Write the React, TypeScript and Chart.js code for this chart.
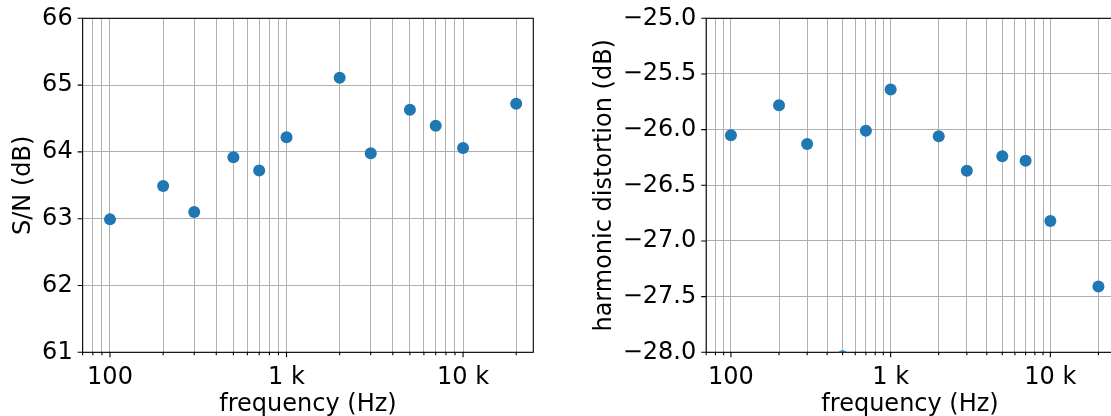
import React, { useEffect, useRef } from "react";
import { Chart, registerables } from "chart.js";

Chart.register(...registerables);

// ---- data ----
const frequencies = [100, 200, 300, 500, 700, 1000, 2000, 3000, 5000, 7000, 10000, 20000];
const snValues = [62.99, 63.49, 63.1, 63.92, 63.72, 64.22, 65.11, 63.98, 64.63, 64.39, 64.06, 64.72];
const distortionValues = [-26.05, -25.78, -26.13, -28.035, -26.01, -25.64, -26.06, -26.37, -26.24, -26.28, -26.82, -27.41];
const xTickValues = [70, 80, 90, 100, 200, 300, 400, 500, 600, 700, 800, 900, 1000, 2000, 3000, 4000, 5000, 6000, 7000, 8000, 9000, 10000, 20000];
const xMajorTicks = [100, 1000, 10000];
const xMajorLabels = ["100", "1 k", "10 k"];
const xLimits = [70, 25000];
const snTicks = [61, 62, 63, 64, 65, 66];
const distortionTicks = [-28, -27.5, -27, -26.5, -26, -25.5, -25];
const xTitle = "frequency (Hz)";
const snTitle = "S/N (dB)";
const distortionTitle = "harmonic distortion (dB)";

const FONT = "'DejaVu Sans', 'Liberation Sans', sans-serif";
const FONT_SIZE = 24;
const H = 416;

const frameTicksPlugin = {
  id: "frameTicks",
  beforeDatasetsDraw(chart: any) {
    const { ctx, chartArea: a, scales } = chart;
    ctx.save();
    ctx.strokeStyle = "#000";
    ctx.lineWidth = 1.1;
    ctx.beginPath();
    const xs = scales.x;
    for (const t of xs.ticks) {
      const px = xs.getPixelForValue(t.value);
      const len = xMajorTicks.includes(t.value) ? 5 : 3;
      ctx.moveTo(px, a.bottom);
      ctx.lineTo(px, a.bottom + len);
    }
    const ys = scales.y;
    for (const t of ys.ticks) {
      const py = ys.getPixelForValue(t.value);
      ctx.moveTo(a.left, py);
      ctx.lineTo(a.left - 5, py);
    }
    ctx.stroke();
    ctx.strokeRect(a.left, a.top, a.right - a.left, a.bottom - a.top);
    ctx.restore();
  },
};

type PanelProps = {
  values: number[];
  yTicks: number[];
  yTitle: string;
  yFormat: (v: number) => string;
  canvasLeft: number;
  canvasWidth: number;
  area: { left: number; right: number; top: number; bottom: number };
  yTitlePad: number;
};

function Panel(p: PanelProps) {
  const ref = useRef<HTMLCanvasElement | null>(null);
  useEffect(() => {
    if (!ref.current) return;
    const font = { family: FONT, size: FONT_SIZE };
    const chart = new Chart(ref.current, {
      type: "scatter",
      data: {
        datasets: [
          {
            data: frequencies.map((f, i) => ({ x: f, y: p.values[i] })),
            backgroundColor: "#1f77b4",
            borderWidth: 0,
            pointRadius: 6,
            pointHoverRadius: 6,
            clip: 0,
          } as any,
        ],
      },
      options: {
        animation: false,
        responsive: false,
        events: [],
        layout: {
          padding: { left: 0, top: p.area.top, right: p.canvasWidth - p.area.right, bottom: 0 },
        },
        plugins: { legend: { display: false }, tooltip: { enabled: false } },
        scales: {
          x: {
            type: "logarithmic",
            min: xLimits[0],
            max: xLimits[1],
            bounds: "data",
            afterBuildTicks: (s: any) => {
              s.ticks = xTickValues.map((v) => ({ value: v }));
            },
            afterFit: (s: any) => {
              s.height = H - p.area.bottom;
              s.paddingLeft = 0;
              s.paddingRight = 0;
            },
            ticks: {
              autoSkip: false,
              maxRotation: 0,
              minRotation: 0,
              padding: 11,
              color: "#000",
              font,
              callback: (v: any) => {
                const i = xMajorTicks.indexOf(Number(v));
                return i >= 0 ? xMajorLabels[i] : "";
              },
            },
            grid: { color: "#b0b0b0", lineWidth: 1, drawTicks: false },
            border: { display: false },
            title: { display: true, text: xTitle, color: "#000", font, padding: { top: 0, bottom: -3.5 } },
          },
          y: {
            type: "linear",
            min: p.yTicks[0],
            max: p.yTicks[p.yTicks.length - 1],
            afterBuildTicks: (s: any) => {
              s.ticks = p.yTicks.map((v) => ({ value: v }));
            },
            afterFit: (s: any) => {
              s.width = p.area.left;
              s.paddingTop = 0;
              s.paddingBottom = 0;
            },
            ticks: {
              padding: 10,
              color: "#000",
              font,
              callback: (v: any) => p.yFormat(Number(v)),
            },
            grid: { color: "#b0b0b0", lineWidth: 1, drawTicks: false },
            border: { display: false },
            title: { display: true, text: p.yTitle, color: "#000", font, padding: { top: p.yTitlePad, bottom: 0 } },
          },
        },
      } as any,
      plugins: [frameTicksPlugin],
    });
    return () => chart.destroy();
  }, []);
  return (
    <canvas
      ref={ref}
      width={p.canvasWidth}
      height={H}
      style={{ position: "absolute", left: p.canvasLeft, top: 0, width: p.canvasWidth, height: H, display: "block" }}
    />
  );
}

export default function App() {
  return (
    <div style={{ position: "absolute", left: 0, top: 0, width: 1111, height: H, overflow: "hidden", background: "#fff" }}>
      <Panel
        values={snValues}
        yTicks={snTicks}
        yTitle={snTitle}
        yFormat={(v) => String(v)}
        canvasLeft={0}
        canvasWidth={560}
        area={{ left: 82.65, right: 533.3, top: 18.3, bottom: 352.3 }}
        yTitlePad={9}
      />
      <Panel
        values={distortionValues}
        yTicks={distortionTicks}
        yTitle={distortionTitle}
        yFormat={(v) => (v < 0 ? "\u2212" : "") + Math.abs(v).toFixed(1)}
        canvasLeft={560}
        canvasWidth={560}
        area={{ left: 146.2, right: 553.9, top: 18.3, bottom: 352.3 }}
        yTitlePad={30}
      />
    </div>
  );
}
